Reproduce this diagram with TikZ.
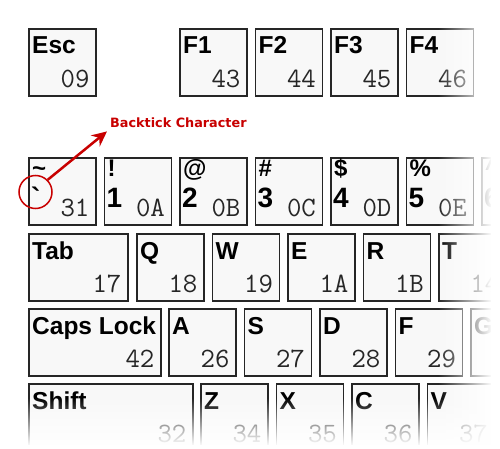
\documentclass[tikz,border=0pt]{standalone}
\usepackage{fontspec}
\setmainfont{Liberation Sans}
\newfontfamily\notefont{DejaVu Sans}
\usepackage{tikz}
\usetikzlibrary{
	positioning,
	calc,
	arrows.meta,
	fadings
}
\definecolor{tickred}{RGB}{200,0,0}
\definecolor{capfill}{RGB}{248,248,248}

\begin{document}
\begin{tikzpicture}[
	x=1pt,y=-1pt,
	c_key/.style={
		draw=black!85,
		fill=capfill,
		line width=1.6pt,
		anchor=north west,
		inner sep=0pt,
		minimum height=67pt
	},
	c_label/.style={
		font=\fontsize{24.5}{24}\selectfont\bfseries,
		anchor=base west,
		inner sep=0pt
	},
	c_upper/.style={
		font=\fontsize{24}{24}\selectfont\bfseries,
		anchor=base west,
		inner sep=0pt
	},
	c_digit/.style={
		font=\fontsize{28}{28}\selectfont\bfseries,
		anchor=base west,
		inner sep=0pt
	},
	c_code/.style={
		font=\fontsize{28}{28}\ttfamily,
		text=black!85,
		anchor=base east,
		inner sep=0pt
	},
	c_note/.style={
		tickred,
		font=\notefont\bfseries\fontsize{12.8}{14}\selectfont,
		anchor=base west,
		inner sep=3pt
	}
	]

	\useasboundingbox (0,0) rectangle (500,449);

	% =========================================================================
	% 1. ESC AND FUNCTION KEYS
	% =========================================================================

	\foreach \nm/\x/\lab/\code in
		{esc/27/Esc/09, fone/178/F1/43, ftwo/253.5/F2/44,
		 fthree/329/F3/45, ffour/404.5/F4/46}
	{
		\node[c_key,minimum width=67pt] (\nm) at (\x+1,28) {};
		\node[c_label] (\nm-lab) at ([xshift=4pt,yshift=-26pt]\nm.north west) {\lab};
		\node[c_code] (\nm-code) at ([xshift=-7pt,yshift=9pt]\nm.south east) {\code};
	}

	% =========================================================================
	% 2. NUMBER ROW
	% =========================================================================

	\foreach \nm/\x/\up/\dig/\code in
		{tilde/27/\textasciitilde/\textasciigrave/31, one/102.5/!/1/0A,
		 two/178/@/2/0B, three/253.5/\#/3/0C, four/329/\$/4/0D,
		 five/404.5/\%/5/0E}
	{
		\node[c_key,minimum width=67pt] (\nm) at (\x+1,157) {};
		\node[c_upper] (\nm-up) at ([xshift=4pt,yshift=-20pt]\nm.north west) {\up};
		\node[c_digit] (\nm-dig) at ([xshift=3pt,yshift=-50pt]\nm.north west) {\dig};
		\node[c_code] (\nm-code) at ([xshift=-7pt,yshift=9pt]\nm.south east) {\code};
	}

	% Six (only its edge shows)
	\node[c_key,minimum width=67pt] (six) at (481,157) {};
	\node[c_upper] (six-up) at ([xshift=4pt,yshift=-20pt]six.north west) {\textasciicircum};
	\node[c_digit] (six-dig) at ([xshift=3pt,yshift=-50pt]six.north west) {6};

	% =========================================================================
	% 3. LETTER ROWS
	% =========================================================================

	% Tab row
	\foreach \nm/\x/\w/\lab/\code in
		{tab/27/101/Tab/17, q/135/69/Q/18, w/210.5/69/W/19,
		 e/286/69/E/1A, r/361.5/69/R/1B, t/437/69/T/14}
	{
		\node[c_key,minimum width=\w pt-2pt] (\nm) at (\x+1,233) {};
		\node[c_label] (\nm-lab) at ([xshift=4pt,yshift=-26pt]\nm.north west) {\lab};
		\node[c_code] (\nm-code) at ([xshift=-7pt,yshift=9pt]\nm.south east) {\code};
	}

	% Caps row
	\foreach \nm/\x/\w/\lab/\code in
		{caps/27/134/Caps Lock/42, a/167/69/A/26, s/242.5/69/S/27,
		 d/318/69/D/28, f/393.5/69/F/29}
	{
		\node[c_key,minimum width=\w pt-2pt] (\nm) at (\x+1,308) {};
		\node[c_label] (\nm-lab) at ([xshift=4pt,yshift=-26pt]\nm.north west) {\lab};
		\node[c_code] (\nm-code) at ([xshift=-7pt,yshift=9pt]\nm.south east) {\code};
	}

	% G (only its edge shows)
	\node[c_key,minimum width=67pt] (g) at (470,308) {};
	\node[c_label] (g-lab) at ([xshift=4pt,yshift=-26pt]g.north west) {G};

	% Shift row
	\foreach \nm/\x/\w/\lab/\code in
		{shift/27/166/Shift/32, z/199/69/Z/34, x/274.5/69/X/35,
		 c/350/69/C/36, v/425.5/69/V/37}
	{
		\node[c_key,minimum width=\w pt-2pt] (\nm) at (\x+1,383) {};
		\node[c_label] (\nm-lab) at ([xshift=4pt,yshift=-26pt]\nm.north west) {\lab};
		\node[c_code] (\nm-code) at ([xshift=-7pt,yshift=9pt]\nm.south east) {\code};
	}

	% =========================================================================
	% 4. BACKTICK CALLOUT
	% =========================================================================

	\node[circle,draw=tickred,line width=1.5pt,minimum size=33pt,inner sep=0pt]
	(tick) at (35.5,192) {};

	\node[c_note] (note) at (107,128) {Backtick Character};

	\draw[tickred,line width=2.5pt,-{Stealth[length=15pt,width=14pt]}]
	(tick.45)--(note.south west);

	% =========================================================================
	% 5. EDGE FADE
	% =========================================================================

	\fill[white,path fading=west] (438,0) rectangle (492,449);
	\fill[white] (491,0) rectangle (500,449);

	\fill[white,path fading=north] (0,398) rectangle (500,446);
	\fill[white] (0,445) rectangle (500,449);

\end{tikzpicture}
\end{document}
